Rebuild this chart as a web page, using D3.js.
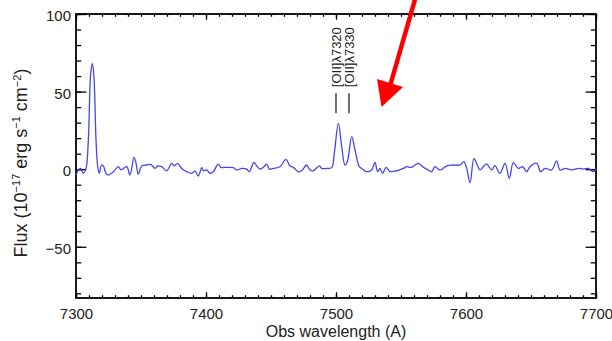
<!DOCTYPE html>
<html><head><meta charset="utf-8">
<script src="https://cdn.jsdelivr.net/npm/d3@7"></script>
<style>body{margin:0;background:#fff}svg{display:block}text{font-family:"Liberation Sans",Arial,sans-serif}</style>
</head><body>
<svg id="c" width="612" height="341"></svg>
<script>
// Observed wavelength (A)
const wavelength = [7300.0,7301.8,7303.6,7305.6,7307.7,7309.5,7311.3,7312.6,7313.8,7315.4,7316.7,7317.9,7319.7,7321.0,7323.1,7324.9,7328.7,7332.6,7334.6,7339.0,7341.5,7344.6,7346.2,7347.9,7350.5,7354.4,7357.4,7360.8,7362.8,7365.9,7369.7,7373.6,7375.6,7377.9,7381.3,7385.1,7389.0,7391.5,7394.1,7396.7,7397.9,7400.5,7403.1,7405.6,7409.5,7411.5,7415.9,7421.0,7423.6,7427.4,7431.3,7433.3,7436.9,7439.0,7441.5,7444.1,7446.7,7448.7,7451.8,7456.9,7461.5,7464.6,7467.2,7471.0,7473.6,7477.4,7480.0,7482.6,7487.2,7489.0,7492.8,7496.7,7498.7,7501.8,7504.4,7506.9,7508.7,7512.1,7514.6,7517.9,7519.7,7523.6,7527.4,7530.0,7532.0,7533.8,7535.9,7538.5,7541.5,7546.7,7551.8,7554.4,7558.2,7563.3,7567.2,7571.0,7573.6,7576.1,7580.0,7585.1,7590.2,7595.4,7598.4,7600.5,7603.1,7606.1,7608.2,7610.8,7613.3,7615.9,7619.7,7622.3,7626.1,7630.0,7633.3,7636.4,7640.2,7643.6,7646.7,7649.2,7654.4,7657.4,7660.8,7665.9,7669.7,7672.3,7676.2,7681.3,7686.4,7690.3,7694.1,7697.9,7700.0];
// Flux (1e-17 erg s-1 cm-2)
const flux = [-3.7,-0.5,0.5,-2.7,0.5,18.9,61.7,68.1,59.5,18.8,1.6,-2.7,2.7,2.1,-2.7,-3.8,-1.6,1.6,-0.5,1.6,-3.8,7.6,3.8,-3.3,2.1,2.7,3.1,0.5,2.1,1.6,-1.0,3.8,2.1,3.8,0.5,-1.6,-2.7,-1.2,-4.4,1.0,-1.0,-0.5,-2.7,-1.6,3.3,1.2,1.2,1.0,-0.5,0.5,0.0,-1.6,4.4,2.1,0.0,1.2,3.3,0.0,0.5,1.6,6.3,2.1,1.2,-1.6,-1.0,2.7,-0.5,-1.0,2.1,0.5,0.5,1.0,10.2,29.5,14.5,2.7,4.8,21.0,12.4,1.6,0.5,-1.6,-0.5,4.4,-1.6,0.5,-2.7,1.2,-1.4,-1.0,0.5,1.6,1.2,3.8,1.2,-0.5,-1.6,1.6,-0.5,2.1,2.7,2.7,4.8,0.5,-8.7,7.0,3.8,-0.5,1.6,3.4,-0.5,2.3,-2.7,3.8,-5.9,4.2,0.5,1.6,-1.6,1.6,3.8,-1.6,0.5,-0.5,5.3,-0.5,0.5,-0.5,0.5,0.1,0.5,-1.6,0.0];

const xTicks = [7300,7400,7500,7600,7700];
const yTicks = [-50,0,50,100];
const lineWavelengths = [7500,7510];
const lineLabels = ["[OII]λ7320","[OII]λ7330"];

const svg = d3.select("#c");
const L=76,R=596,T=14,B=298;
const x = d3.scaleLinear().domain([7300,7700]).range([L,R]);
const y = d3.scaleLinear().domain([-83,100]).range([B,T]);

const xMinor = d3.range(7300,7701,10);
const yMinor = d3.range(-80,101,10);
const xl=5.7, yl=10.4;

function ax(gen, tr){ const g=svg.append("g").attr("transform",tr).call(gen); g.select(".domain").remove(); g.selectAll("line").attr("stroke","#000").attr("stroke-width",1.3); return g; }
// minor ticks
ax(d3.axisBottom(x).tickValues(xMinor).tickSize(-xl/2).tickFormat(""),`translate(0,${B})`);
ax(d3.axisTop(x).tickValues(xMinor).tickSize(-xl/2).tickFormat(""),`translate(0,${T})`);
ax(d3.axisLeft(y).tickValues(yMinor).tickSize(-yl/2).tickFormat(""),`translate(${L},0)`);
ax(d3.axisRight(y).tickValues(yMinor).tickSize(-yl/2).tickFormat(""),`translate(${R},0)`);
// major ticks
const gb=ax(d3.axisBottom(x).tickValues(xTicks).tickSize(-xl).tickPadding(10.5).tickFormat(d3.format("d")),`translate(0,${B})`);
ax(d3.axisTop(x).tickValues(xTicks).tickSize(-xl).tickFormat(""),`translate(0,${T})`);
const gl=ax(d3.axisLeft(y).tickValues(yTicks).tickSize(-yl).tickPadding(5).tickFormat(d=>d<0?"−"+Math.abs(d):d),`translate(${L},0)`);
ax(d3.axisRight(y).tickValues(yTicks).tickSize(-yl).tickFormat(""),`translate(${R},0)`);
svg.selectAll(".tick text").attr("font-size",15).attr("fill","#222").attr("font-family",'"Liberation Sans",Arial,sans-serif');
gl.selectAll(".tick text").attr("dy","0.45em");

// frame
svg.append("rect").attr("x",L).attr("y",T).attr("width",R-L).attr("height",B-T).attr("fill","none").attr("stroke","#000").attr("stroke-width",1.8);

// spectrum
const line = d3.line().x((d,i)=>x(wavelength[i])).y(d=>y(d)).curve(d3.curveCatmullRom.alpha(0.5));
svg.append("path").attr("d",line(flux)).attr("fill","none").attr("stroke","#4646f0").attr("stroke-width",1.3);

// line markers
lineWavelengths.forEach((w,i)=>{
  svg.append("line").attr("x1",x(w)).attr("x2",x(w)).attr("y1",y(36)).attr("y2",y(49)).attr("stroke","#333").attr("stroke-width",1.4);
  svg.append("text").attr("transform",`translate(${x(w)+4.5},${y(49)-6}) rotate(-90)`).attr("font-size",13).attr("fill","#222").text(lineLabels[i]);
});

// axis titles
svg.append("text").attr("x",(L+R)/2).attr("y",337).attr("text-anchor","middle").attr("font-size",16).attr("fill","#222").text("Obs wavelength (A)");
const yt = svg.append("text").attr("transform","translate(27,163) rotate(-90)").attr("text-anchor","middle").attr("font-size",18).attr("fill","#222");
yt.append("tspan").text("Flux (10");
yt.append("tspan").attr("font-size",11).attr("dy","-0.6em").text("−17");
yt.append("tspan").attr("dy","0.37em").text(" erg s");
yt.append("tspan").attr("font-size",11).attr("dy","-0.6em").text("−1");
yt.append("tspan").attr("dy","0.37em").text(" cm");
yt.append("tspan").attr("font-size",11).attr("dy","-0.6em").text("−2");
yt.append("tspan").attr("dy","0.37em").text(")");

// red arrow annotation
svg.append("line").attr("x1",416).attr("y1",-4).attr("x2",390).attr("y2",86).attr("stroke","#ff0000").attr("stroke-width",4.5);
svg.append("path").attr("d","M377,79 L403,87 L381.5,107 Z").attr("fill","#ff0000");
</script>
</body></html>
